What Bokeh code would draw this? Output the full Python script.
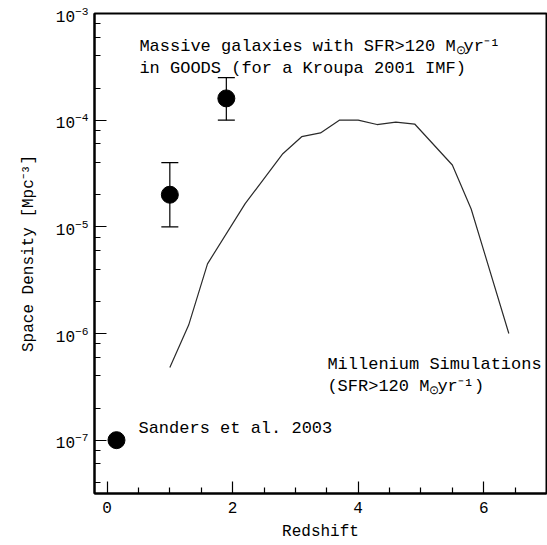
from bokeh.plotting import figure
from bokeh.models import (Range1d, FixedTicker, LogTicker,
                          Whisker, TeeHead, ColumnDataSource, Label)
from bokeh.embed import file_html
from bokeh.resources import INLINE

# --- data ---
obs_z = [0.15, 1.0, 1.9]
obs_density = [1.0e-7, 2.0e-5, 1.6e-4]
err_z = [1.0, 1.9]
err_lower = [1.0e-5, 1.0e-4]
err_upper = [4.0e-5, 2.5e-4]

sim_z = [1.0, 1.3, 1.6, 2.2, 2.8, 3.1, 3.4, 3.7, 4.0, 4.3, 4.6, 4.9, 5.5, 5.8, 6.4]
sim_density = [4.8e-7, 1.2e-6, 4.5e-6, 1.65e-5, 4.85e-5, 7.0e-5, 7.6e-5, 1.0e-4,
               1.0e-4, 9.1e-5, 9.6e-5, 9.2e-5, 3.8e-5, 1.47e-5, 1.0e-6]

x_major_ticks = [0, 2, 4, 6]
x_minor_ticks = [0.5, 1, 1.5, 2.5, 3, 3.5, 4.5, 5, 5.5, 6.5]

X_MIN, X_MAX = -0.2, 7.0
Y_MIN, Y_MAX = 10 ** -7.5, 1e-3

FONT = "Liberation Mono"

p = figure(width=547, height=545, y_axis_type="log",
           x_range=Range1d(X_MIN, X_MAX), y_range=Range1d(Y_MIN, Y_MAX),
           output_backend="svg", toolbar_location=None,
           min_border_left=94, min_border_right=1, min_border_top=13, min_border_bottom=52)
p.grid.visible = False
p.outline_line_color = "black"
p.outline_line_width = 2
p.background_fill_color = "white"
p.border_fill_color = "white"

bottom = p.below[0]
left = p.left[0]
bottom.ticker = FixedTicker(ticks=x_major_ticks, minor_ticks=x_minor_ticks)
left.ticker = LogTicker()

for ax in (bottom, left):
    ax.major_tick_in = 12
    ax.major_tick_out = 0
    ax.minor_tick_in = 6
    ax.minor_tick_out = 0
    ax.major_tick_line_color = "black"
    ax.minor_tick_line_color = "black"
    ax.major_tick_line_width = 1.2
    ax.minor_tick_line_width = 1.2
    ax.axis_line_color = "black"
    ax.axis_line_width = 2
    ax.major_label_text_font = FONT
    ax.major_label_text_font_size = "16px"
    ax.major_label_text_color = "black"
    ax.axis_label_text_font = FONT
    ax.axis_label_text_font_size = "16px"
    ax.axis_label_text_font_style = "normal"
    ax.axis_label_text_color = "black"

bottom.axis_label = "Redshift"
left.axis_label = "Space Density [Mpc\u207b\u00b3]"
bottom.major_label_standoff = 8
bottom.axis_label_standoff = 7
left.major_label_standoff = 6
left.axis_label_standoff = 15

# simulation curve
p.line(sim_z, sim_density, line_color="#2a2a2a", line_width=1.2)

# error bars
src = ColumnDataSource(dict(x=err_z, lower=err_lower, upper=err_upper))
p.add_layout(Whisker(base="x", lower="lower", upper="upper", source=src,
                     line_color="black", line_width=1.2,
                     upper_head=TeeHead(size=17, line_color="black", line_width=1.2),
                     lower_head=TeeHead(size=17, line_color="black", line_width=1.2)))

# observed points
p.scatter(obs_z, obs_density, size=17, fill_color="black", line_color="black")

# annotations
def lab(x, y, text, size="17px", xo=0, yo=0):
    p.add_layout(Label(x=x, y=y, text=text, text_font=FONT, text_font_size=size,
                       text_color="black", text_baseline="alphabetic",
                       x_offset=xo, y_offset=yo))

cw = 10.2
line1 = "Massive galaxies with SFR>120 M"
lab(0.515, 4.91e-4, line1)
lab(0.515, 4.91e-4, "\u2299", size="12px", xo=len(line1) * cw, yo=-5)
lab(0.515, 4.91e-4, "yr\u207b\u00b9", xo=len(line1) * cw + 8)
lab(0.515, 3.05e-4, "in GOODS (for a Kroupa 2001 IMF)")

lab(3.51, 5.13e-7, "Millenium Simulations")
line2 = "(SFR>120 M"
lab(3.51, 3.19e-7, line2)
lab(3.51, 3.19e-7, "\u2299", size="12px", xo=len(line2) * cw, yo=-5)
lab(3.51, 3.19e-7, "yr\u207b\u00b9)", xo=len(line2) * cw + 8)

lab(0.50, 1.29e-7, "Sanders et al. 2003")

open("out.html", "w").write(file_html(p, INLINE))
